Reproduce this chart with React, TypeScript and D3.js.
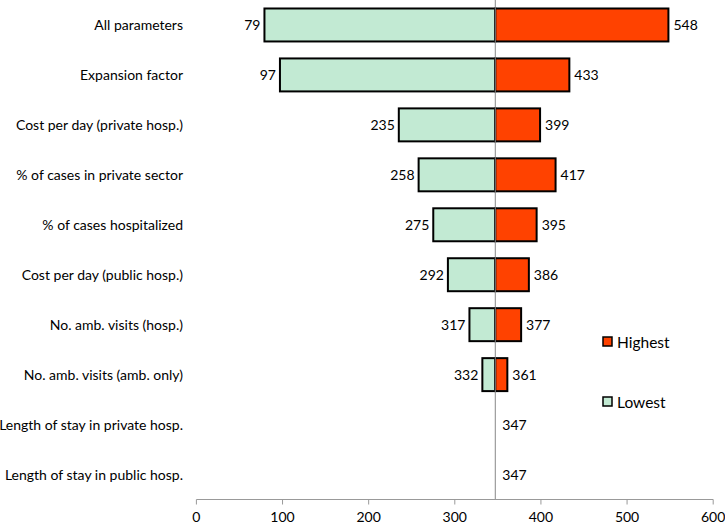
import React from "react";
import * as d3 from "d3";

const categories = [
  "All parameters",
  "Expansion factor",
  "Cost per day (private hosp.)",
  "% of cases in private sector",
  "% of cases hospitalized",
  "Cost per day (public hosp.)",
  "No. amb. visits (hosp.)",
  "No. amb. visits (amb. only)",
  "Length of stay in private hosp.",
  "Length of stay in public hosp.",
];
const lowValues = [79, 97, 235, 258, 275, 292, 317, 332, 347, 347];
const highValues = [548, 433, 399, 417, 395, 386, 377, 361, 347, 347];
const baseValue = 347;
const xTicks = [0, 100, 200, 300, 400, 500, 600];
const seriesNames = ["Highest", "Lowest"];

const W = 725;
const H = 524;
const FONT = "Lato, 'Open Sans', sans-serif";
const LOW_COLOR = "#c2ead3";
const HIGH_COLOR = "#ff4200";

export default function App() {
  const x = d3.scaleLinear().domain([0, 600]).range([196.4, 713.2]);
  const y = d3
    .scaleBand<string>()
    .domain(categories)
    .range([0, 499.5])
    .paddingInner(0.34)
    .paddingOuter(0.17);
  const axisY = 499.5;
  const bw = y.bandwidth();

  return (
    <svg
      width={W}
      height={H}
      style={{ position: "absolute", left: 0, top: 0, background: "#fff" }}
      fontFamily={FONT}
    >
      {categories.map((c, i) => {
        const y0 = y(c)!;
        const cy = y0 + bw / 2;
        const lo = lowValues[i];
        const hi = highValues[i];
        const hasBars = lo !== baseValue || hi !== baseValue;
        return (
          <g key={c}>
            <text
              x={183}
              y={cy}
              textAnchor="end"
              dominantBaseline="central"
              fontSize={14}
              fill="#000"
            >
              {c}
            </text>
            {hasBars && (
              <>
                <rect
                  x={x(lo)}
                  y={y0}
                  width={x(baseValue) - x(lo)}
                  height={bw}
                  fill={LOW_COLOR}
                  stroke="#000"
                  strokeWidth={2}
                />
                <rect
                  x={x(baseValue)}
                  y={y0}
                  width={x(hi) - x(baseValue)}
                  height={bw}
                  fill={HIGH_COLOR}
                  stroke="#000"
                  strokeWidth={2}
                />
                <text
                  x={x(lo) - 4}
                  y={cy}
                  textAnchor="end"
                  dominantBaseline="central"
                  fontSize={14}
                >
                  {lo}
                </text>
              </>
            )}
            <text
              x={x(hi) + (hasBars ? 5 : 7)}
              y={cy}
              textAnchor="start"
              dominantBaseline="central"
              fontSize={14}
            >
              {hi}
            </text>
          </g>
        );
      })}
      <line
        x1={x(baseValue)}
        x2={x(baseValue)}
        y1={0}
        y2={axisY}
        stroke="#888"
        strokeWidth={1}
      />
      <line x1={x(0)} x2={x(600)} y1={axisY} y2={axisY} stroke="#999" strokeWidth={1} />
      {xTicks.map((t) => (
        <g key={t}>
          <line x1={x(t)} x2={x(t)} y1={axisY} y2={axisY + 5} stroke="#999" strokeWidth={1} />
          <text x={x(t)} y={522} textAnchor="middle" fontSize={14}>
            {t}
          </text>
        </g>
      ))}
      {seriesNames.map((s, i) => {
        const ly = i === 0 ? 342 : 402;
        return (
          <g key={s}>
            <rect
              x={603}
              y={ly - 5}
              width={9}
              height={9}
              fill={i === 0 ? HIGH_COLOR : LOW_COLOR}
              stroke="#000"
              strokeWidth={1.5}
            />
            <text x={617} y={ly} dominantBaseline="central" fontSize={15.5}>
              {s}
            </text>
          </g>
        );
      })}
    </svg>
  );
}
